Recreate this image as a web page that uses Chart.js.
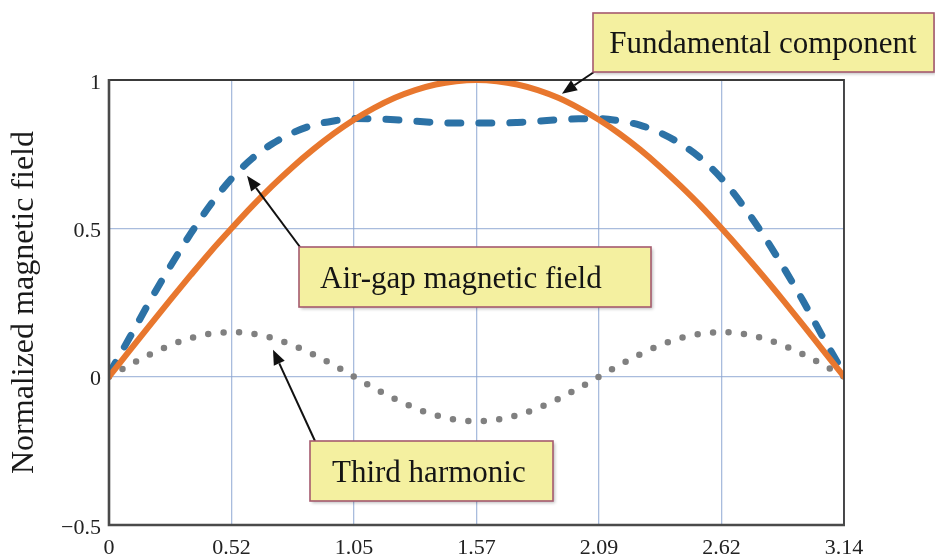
<!DOCTYPE html>
<html><head><meta charset="utf-8">
<script src="https://cdn.jsdelivr.net/npm/chart.js@4.4.1/dist/chart.umd.min.js"></script>
<style>html,body{margin:0;padding:0;background:#fff}#wrap{width:935px;height:558px;position:relative}</style>
</head><body><div id="wrap"><canvas id="c" width="935" height="558"></canvas></div>
<script>
const xValues = [0, 0.087, 0.175, 0.262, 0.349, 0.436, 0.524, 0.611, 0.698, 0.785, 0.873, 0.96, 1.047, 1.134, 1.222, 1.309, 1.396, 1.484, 1.571, 1.658, 1.745, 1.833, 1.92, 2.007, 2.094, 2.182, 2.269, 2.356, 2.443, 2.531, 2.618, 2.705, 2.793, 2.88, 2.967, 3.054, 3.142];
const fundamental = [0, 0.087, 0.174, 0.259, 0.342, 0.423, 0.5, 0.574, 0.643, 0.707, 0.766, 0.819, 0.866, 0.906, 0.94, 0.966, 0.985, 0.996, 1, 0.996, 0.985, 0.966, 0.94, 0.906, 0.866, 0.819, 0.766, 0.707, 0.643, 0.574, 0.5, 0.423, 0.342, 0.259, 0.174, 0.087, 0];
const airGap = [0.01, 0.13, 0.255, 0.372, 0.482, 0.582, 0.668, 0.735, 0.785, 0.822, 0.848, 0.862, 0.87, 0.869, 0.866, 0.861, 0.857, 0.855, 0.855, 0.855, 0.857, 0.861, 0.866, 0.869, 0.87, 0.862, 0.848, 0.822, 0.785, 0.735, 0.668, 0.582, 0.482, 0.372, 0.255, 0.13, 0.01];
const thirdHarmonic = [0, 0.039, 0.075, 0.106, 0.13, 0.145, 0.15, 0.145, 0.13, 0.106, 0.075, 0.039, 0, -0.039, -0.075, -0.106, -0.13, -0.145, -0.15, -0.145, -0.13, -0.106, -0.075, -0.039, 0, 0.039, 0.075, 0.106, 0.13, 0.145, 0.15, 0.145, 0.13, 0.106, 0.075, 0.039, 0];
const xTickValues = [0, 0.5236, 1.0472, 1.5708, 2.0944, 2.618, 3.1416];
const xTickLabels = ["0", "0.52", "1.05", "1.57", "2.09", "2.62", "3.14"];
const yTickValues = [-0.5, 0, 0.5, 1];
const yTickLabels = ["\u22120.5", "0", "0.5", "1"];
const yTitle = "Normalized magnetic field";

const annotationTexts = ["Fundamental component", "Air-gap magnetic field", "Third harmonic"];
const annotationTips = [[1.936, 0.954], [0.59, 0.677], [0.701, 0.091]];

const SERIF = '"Liberation Serif", "Times New Roman", "DejaVu Serif", serif';

const boxLayout = [
  {box: [593, 13, 341, 59], tx: 763, ty: 53, align: 'center', from: [594, 72]},
  {box: [299, 247, 352, 60], tx: 320, ty: 288, align: 'left', from: [300, 247]},
  {box: [310, 441, 243, 60], tx: 332, ty: 482, align: 'left', from: [315, 441]}
];

const framePlugin = {
  id: 'frame',
  afterDatasetsDraw(chart) {
    const {ctx, chartArea: a} = chart;
    ctx.save();
    ctx.strokeStyle = '#3a3a3a';
    ctx.lineWidth = 1.8;
    ctx.beginPath();
    ctx.moveTo(a.left, a.top); ctx.lineTo(a.right, a.top); ctx.lineTo(a.right, a.bottom);
    ctx.stroke();
    ctx.strokeStyle = '#4a4a4a';
    ctx.lineWidth = 2.6;
    ctx.beginPath();
    ctx.moveTo(a.left, a.top - 1); ctx.lineTo(a.left, a.bottom); ctx.lineTo(a.right + 1, a.bottom);
    ctx.stroke();
    ctx.restore();
  }
};

const annotationPlugin = {
  id: 'notes',
  afterDraw(chart) {
    const {ctx} = chart;
    const xs = chart.scales.x, ys = chart.scales.y;
    ctx.save();
    annotationTexts.forEach((t, i) => {
      const L = boxLayout[i];
      const tipX = xs.getPixelForValue(annotationTips[i][0]);
      const tipY = ys.getPixelForValue(annotationTips[i][1]);
      const [fx, fy] = L.from;
      const ang = Math.atan2(tipY - fy, tipX - fx);
      const hl = 15, hw = 6;
      const bx = tipX - hl * Math.cos(ang), by = tipY - hl * Math.sin(ang);
      ctx.strokeStyle = '#111'; ctx.fillStyle = '#111'; ctx.lineWidth = 2;
      ctx.beginPath(); ctx.moveTo(fx, fy); ctx.lineTo(bx, by); ctx.stroke();
      ctx.beginPath();
      ctx.moveTo(tipX, tipY);
      ctx.lineTo(bx + hw * Math.sin(ang), by - hw * Math.cos(ang));
      ctx.lineTo(bx - hw * Math.sin(ang), by + hw * Math.cos(ang));
      ctx.closePath(); ctx.fill();
      const [x, y, w, h] = L.box;
      ctx.save();
      ctx.shadowColor = 'rgba(0,0,0,0.25)'; ctx.shadowOffsetX = 2; ctx.shadowOffsetY = 2; ctx.shadowBlur = 3;
      ctx.fillStyle = '#f4f0a0';
      ctx.fillRect(x, y, w, h);
      ctx.restore();
      ctx.strokeStyle = '#a55a6e'; ctx.lineWidth = 1.6;
      ctx.strokeRect(x, y, w, h);
      ctx.fillStyle = '#141414';
      ctx.font = '31px ' + SERIF;
      ctx.textAlign = L.align; ctx.textBaseline = 'alphabetic';
      ctx.fillText(t, L.tx, L.ty);
    });
    ctx.restore();
  }
};

const toPts = arr => arr.map((v, i) => ({x: xValues[i], y: v}));

new Chart(document.getElementById('c'), {
  type: 'line',
  data: {
    datasets: [
      {label: 'Fundamental component', data: toPts(fundamental), borderColor: '#e8772e', borderWidth: 6, pointRadius: 0, cubicInterpolationMode: 'monotone', borderCapStyle: 'round'},
      {label: 'Air-gap magnetic field', data: toPts(airGap), borderColor: '#2c72a6', borderWidth: 7, pointRadius: 0, cubicInterpolationMode: 'monotone', borderDash: [13, 18], borderCapStyle: 'round'},
      {label: 'Third harmonic', data: toPts(thirdHarmonic), borderColor: '#808080', borderWidth: 6.5, pointRadius: 0, cubicInterpolationMode: 'monotone', borderDash: [0, 15.5], borderCapStyle: 'round'}
    ]
  },
  options: {
    responsive: false,
    devicePixelRatio: 1,
    animation: false,
    layout: {padding: {top: 80, right: 91, left: 0, bottom: 0}},
    plugins: {legend: {display: false}, tooltip: {enabled: false}},
    scales: {
      x: {
        type: 'linear', min: 0, max: 3.1416,
        afterBuildTicks: s => { s.ticks = xTickValues.map(v => ({value: v})); },
        afterFit: s => { s.height = 33; },
        ticks: {callback: (v, i) => xTickLabels[i], font: {family: SERIF, size: 22}, color: '#222', padding: 10, maxRotation: 0, autoSkip: false},
        grid: {color: 'rgba(140,165,210,0.75)', lineWidth: 1.3, drawTicks: false},
        border: {display: false}
      },
      y: {
        type: 'linear', min: -0.5, max: 1,
        afterBuildTicks: s => { s.ticks = yTickValues.map(v => ({value: v})); },
        afterFit: s => { s.width = 109; },
        ticks: {callback: (v, i) => yTickLabels[i], font: {family: SERIF, size: 22}, color: '#222', padding: 8, labelOffset: 3, autoSkip: false},
        grid: {color: 'rgba(140,165,210,0.75)', lineWidth: 1.3, drawTicks: false},
        border: {display: false},
        title: {display: true, text: yTitle, font: {family: SERIF, size: 32}, color: '#1a1a1a', padding: {top: 5, bottom: 0}}
      }
    }
  },
  plugins: [framePlugin, annotationPlugin]
});
</script></body></html>
